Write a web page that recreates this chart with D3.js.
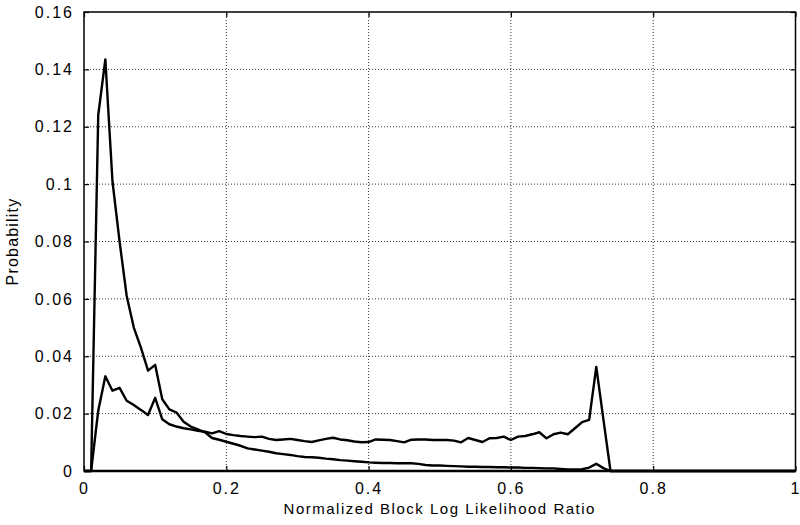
<!DOCTYPE html>
<html>
<head>
<meta charset="utf-8">
<script src="https://cdn.jsdelivr.net/npm/d3@7"></script>
<style>
  html, body { margin: 0; padding: 0; background: #fff; }
  svg text { font-family: "Liberation Sans", Arial, Helvetica, sans-serif; fill: #000; }
</style>
</head>
<body>
<svg id="chart" width="800" height="525"></svg>
<script>
// Histogram bin positions (normalized block log likelihood ratio)
const binStep = 0.01;
const binCount = 101;

// Probability per bin, series with the sharp peak near 0.03
const seriesPeak = [
  0, 0, 0.124, 0.1435, 0.101, 0.080, 0.061, 0.050, 0.043, 0.035,
  0.037, 0.025, 0.0215, 0.0204, 0.0172, 0.0155, 0.0145, 0.0135, 0.0115, 0.0109,
  0.0102, 0.0095, 0.0088, 0.0079, 0.0075, 0.0071, 0.0067, 0.0062, 0.0059, 0.0056,
  0.0052, 0.0049, 0.0048, 0.0046, 0.0043, 0.0041, 0.0038, 0.0036, 0.0034, 0.0032,
  0.0030, 0.0029, 0.0028, 0.0028, 0.0027, 0.0027, 0.0027, 0.0025, 0.0021, 0.0019,
  0.0019, 0.0018, 0.0017, 0.0016, 0.0015, 0.0015, 0.0014, 0.0014, 0.0013, 0.0013,
  0.0012, 0.0012, 0.0011, 0.0011, 0.0010, 0.0009, 0.0009, 0.0007, 0.0005, 0.0005,
  0.0006, 0.0012, 0.0025, 0.0010, 0
];

// Probability per bin, flatter series with the spike near 0.72
const seriesFlat = [
  0, 0, 0.021, 0.033, 0.028, 0.029, 0.0245, 0.023, 0.0213, 0.0195,
  0.0255, 0.018, 0.0163, 0.0155, 0.0149, 0.0145, 0.0140, 0.0137, 0.0131, 0.0139,
  0.0129, 0.0125, 0.0122, 0.0120, 0.0118, 0.0120, 0.0112, 0.0108, 0.0110, 0.0112,
  0.0108, 0.0104, 0.0101, 0.0107, 0.0112, 0.0116, 0.0110, 0.0107, 0.0103, 0.0100,
  0.0101, 0.0110, 0.0109, 0.0108, 0.0104, 0.0100, 0.0109, 0.0110, 0.0110, 0.0108,
  0.0108, 0.0108, 0.0106, 0.0100, 0.0115, 0.0108, 0.0101, 0.0114, 0.0115, 0.0120,
  0.0108, 0.0120, 0.0122, 0.0128, 0.0135, 0.0114, 0.0128, 0.0134, 0.0128, 0.0149,
  0.0170, 0.0178, 0.0363, 0.018, 0
];

const xTicks = [0, 0.2, 0.4, 0.6, 0.8, 1];
const yTicks = [0, 0.02, 0.04, 0.06, 0.08, 0.1, 0.12, 0.14, 0.16];
const xTitle = "Normalized Block Log Likelihood Ratio";
const yTitle = "Probability";

const svg = d3.select("#chart");
const margin = { left: 84, right: 4, top: 12, bottom: 54 };
const W = 800, H = 525;

const x = d3.scaleLinear().domain([0, 1]).range([margin.left, W - margin.right - 0.5]);
const y = d3.scaleLinear().domain([0, 0.16]).range([H - margin.bottom, margin.top]);

const fmt = d => (d === 0 || d === 1) ? String(d) : String(+d.toFixed(2));

// Dotted grid
const grid = svg.append("g").attr("class", "grid");
grid.selectAll("line.gx").data(xTicks.slice(1, -1)).join("line")
  .attr("x1", d => x(d)).attr("x2", d => x(d))
  .attr("y1", y(0)).attr("y2", y(0.16))
  .attr("stroke", "#333").attr("stroke-width", 1).attr("stroke-dasharray", "1,2");
grid.selectAll("line.gy").data(yTicks.slice(1, -1)).join("line")
  .attr("y1", d => y(d)).attr("y2", d => y(d))
  .attr("x1", x(0)).attr("x2", x(1))
  .attr("stroke", "#333").attr("stroke-width", 1).attr("stroke-dasharray", "1,2");

// Axes with inward ticks
const xAxis = svg.append("g").attr("transform", `translate(0,${y(0)})`)
  .call(d3.axisBottom(x).tickValues(xTicks).tickFormat(fmt).tickSizeInner(-5).tickSizeOuter(0).tickPadding(12));
const yAxis = svg.append("g").attr("transform", `translate(${x(0)},0)`)
  .call(d3.axisLeft(y).tickValues(yTicks).tickFormat(fmt).tickSizeInner(-5).tickSizeOuter(0).tickPadding(10));
// mirrored ticks on right and top
svg.append("g").attr("transform", `translate(${x(1)},0)`)
  .call(d3.axisRight(y).tickValues(yTicks).tickFormat("").tickSizeInner(-5).tickSizeOuter(0));
svg.append("g").attr("transform", `translate(0,${y(0.16)})`)
  .call(d3.axisTop(x).tickValues(xTicks).tickFormat("").tickSizeInner(-5).tickSizeOuter(0));

svg.selectAll(".domain").remove();
svg.selectAll(".tick line").attr("stroke", "#000").attr("stroke-width", 1.2);
xAxis.selectAll("text").attr("font-size", 16).style("letter-spacing", "2px").attr("fill", "#000");
yAxis.selectAll("text").attr("font-size", 16).style("letter-spacing", "2px").attr("fill", "#000");

// Data lines
const line = d3.line().x((d, i) => x(i * binStep)).y(d => y(d));
const pad = arr => arr.concat(d3.range(binCount - arr.length).map(() => 0));

svg.append("path").datum(pad(seriesFlat))
  .attr("d", line).attr("fill", "none").attr("stroke", "#000")
  .attr("stroke-width", 2.4).attr("stroke-linejoin", "round");
svg.append("path").datum(pad(seriesPeak))
  .attr("d", line).attr("fill", "none").attr("stroke", "#000")
  .attr("stroke-width", 2.4).attr("stroke-linejoin", "round");

// Frame
svg.append("rect")
  .attr("x", x(0)).attr("y", y(0.16))
  .attr("width", x(1) - x(0)).attr("height", y(0) - y(0.16))
  .attr("fill", "none").attr("stroke", "#000").attr("stroke-width", 1.5);
svg.append("line")
  .attr("x1", x(0)).attr("x2", x(1)).attr("y1", y(0)).attr("y2", y(0))
  .attr("stroke", "#000").attr("stroke-width", 2.5);

// Titles
svg.append("text")
  .attr("x", (x(0) + x(1)) / 2).attr("y", 514)
  .attr("text-anchor", "middle").attr("font-size", 15)
  .style("letter-spacing", "1.5px")
  .text(xTitle);
svg.append("text")
  .attr("transform", `translate(18,${(y(0) + y(0.16)) / 2}) rotate(-90)`)
  .attr("text-anchor", "middle").attr("font-size", 16)
  .style("letter-spacing", "1.2px")
  .text(yTitle);
</script>
</body>
</html>
